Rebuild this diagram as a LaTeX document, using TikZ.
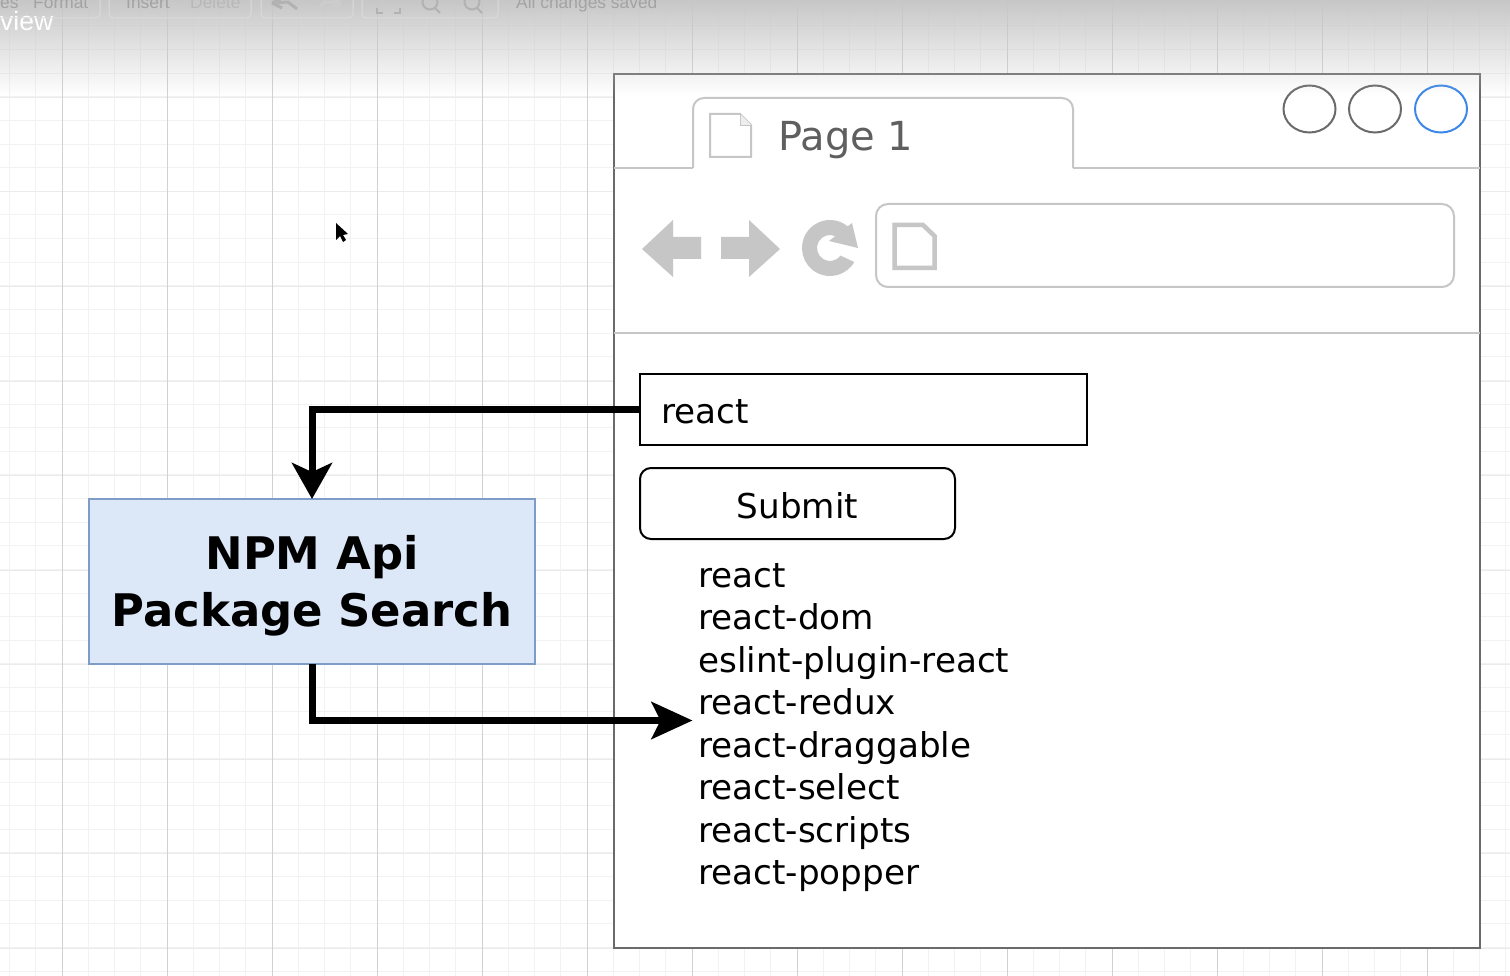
\documentclass[tikz,border=0pt]{standalone}
\usepackage{fontspec}
\setmainfont{DejaVu Sans}
\newfontfamily\barfont{Liberation Sans}
\usepackage{xcolor}
\usetikzlibrary{positioning,arrows.meta,calc,fadings,shapes.geometric}
\definecolor{frame}{HTML}{6A6A6A}
\definecolor{soft}{HTML}{C6C6C6}
\definecolor{acc}{HTML}{3D87E8}
\definecolor{apifill}{HTML}{DCE7F8}
\definecolor{apiline}{HTML}{7F9BC8}
\tikzset{x=1pt,y=-1pt,
  grid/.style={black!5,line width=1pt},
  gridhmaj/.style={black!8,line width=1pt},
  gridmaj/.style={black!18,line width=1pt},
  ctrl/.style={draw=frame,line width=2pt,ellipse,minimum width=52pt,minimum height=47pt,inner sep=0pt,outer sep=0pt},
  softline/.style={draw=soft,line width=2pt},
  softfill/.style={fill=soft,draw=none},
  input/.style={draw=black,line width=2pt,fill=white,inner sep=0pt,outer sep=0pt,anchor=north west},
  formtxt/.style={font=\fontsize{34.2}{34.2}\selectfont,inner sep=0pt},
  result/.style={font=\fontsize{34.2}{42.5}\selectfont,align=left,inner sep=0pt},
  arr/.style={line width=7pt,black},
  faint/.style={black!14,line width=1pt},
  baricon/.style={black!30,line width=2pt},
  barlabel/.style={anchor=base west,inner sep=0pt,font=\barfont\fontsize{17.4}{17.4}\selectfont},
}
\begin{document}
\begin{tikzpicture}
\useasboundingbox (0,0) rectangle (1510,976);
\fill[white] (0,0) rectangle (1510,976);
% grid
\foreach \x in {9.5,35.75,...,1510}{\draw[grid] (\x,0) -- (\x,976);}
\foreach \y in {26,49.625,...,976}{\draw[grid] (0,\y) -- (1510,\y);}
\foreach \y in {4.5,97.5,192,...,976}{\draw[gridhmaj] (0,\y) -- (1510,\y);}
\foreach \x in {62,167,...,1510}{\draw[gridmaj] (\x,0) -- (\x,976);}
% browser
\node[draw=frame,line width=2.5pt,fill=white,minimum width=866pt,minimum height=874pt,inner sep=0pt,outer sep=0pt,anchor=north west] (browser) at (614,74) {};
\coordinate (tabl) at (693,168);
\coordinate (tabr) at (1073,168);
\draw[softline,rounded corners=11pt,fill=white] (tabl) -- (693,98) -- (1073,98) -- (tabr);
\draw[softline] (browser.west |- tabl) -- (tabl);
\draw[softline] (tabr) -- (browser.east |- tabr);
\draw[softline] (browser.west |- 0,333) -- (browser.east |- 0,333);
\draw[softline] (710,114) -- (740,114) -- (751,125) -- (751,157) -- (710,157) -- cycle;
\draw[draw=soft,line width=.8pt,fill=soft!30] (740,114) -- (740,125) -- (751,125);
\node[anchor=base west,text=frame!90!black,font=\fontsize{40}{40}\selectfont,inner sep=0pt] (title) at (778,151) {Page 1};
\node[ctrl] (btnmin) at (1309.5,109) {};
\node[ctrl] (btnmax) at (1375,109) {};
\node[ctrl,draw=acc] (btnclose) at (1441,109) {};
% toolbar
\fill[softfill] (642,249) -- (673,220) -- (673,237) -- (701,237) -- (701,259) -- (673,259) -- (673,277) -- cycle;
\fill[softfill] (780,249) -- (749,220) -- (749,237) -- (721,237) -- (721,259) -- (749,259) -- (749,277) -- cycle;
\coordinate (reload) at (830,248);
\fill[softfill] ($(reload)+(-30:28pt)$) arc[start angle=-30,end angle=-310,radius=28pt] -- ($(reload)+(60:13pt)$) arc[start angle=60,end angle=324,radius=13pt] -- cycle;
\fill[softfill] (829,241) -- (852,223) -- (858,248) -- cycle;
\node[draw=soft,line width=2pt,rounded corners=12pt,minimum width=578pt,minimum height=83pt,inner sep=0pt,outer sep=0pt,anchor=north west] (addr) at (876,204) {};
\draw[draw=soft,line width=4.5pt] (894.5,225) -- (923,225) -- (934.5,236) -- (934.5,268) -- (894.5,268) -- cycle;
% form
\node[input,minimum width=447pt,minimum height=71pt] (search) at (640,374) {};
\node[formtxt,anchor=base west] (searchtxt) at (661,423.5) {react};
\node[input,rounded corners=11pt,minimum width=315pt,minimum height=71pt] (submit) at (640,468) {};
\node[formtxt] (submittxt) at ([yshift=-2pt]submit.center) {Submit};
\node[result,anchor=north west] (list) at (698,563) {react\\react-dom\\eslint-plugin-react\\react-redux\\react-draggable\\react-select\\react-scripts\\react-popper};
% api
\node[draw=apiline,line width=2pt,fill=apifill,minimum width=446pt,minimum height=165pt,inner sep=0pt,outer sep=0pt,anchor=north west] (api) at (89,499) {};
\node[align=center,inner sep=0pt,font=\fontsize{44.9}{57}\bfseries\selectfont] (apitxt) at ([yshift=-4pt]api.center) {NPM Api\\Package Search};
\coordinate (listin) at (692.5,720.5);
\draw[arr,-{Stealth[length=36pt,width=40pt,inset=9pt]}] (search.west) -| (api.north);
\draw[arr,-{Stealth[length=41pt,width=37pt,inset=9pt]}] (api.south) |- (listin);
% cursor
\fill[black] (336,223) -- (336,240) -- (340,236) -- (343,242) -- (346,240) -- (343,235) -- (348,234) -- cycle;
% top bar
\fill[black!22,path fading=south] (0,0) rectangle (1510,95);
\node[anchor=base west,text=white,font=\barfont\fontsize{26.5}{26.5}\selectfont,inner sep=0pt] (viewlbl) at (0,31) {view};
\node[barlabel,text=black!36] (filelbl) at (0,8.5) {es};
\node[barlabel,text=black!36] (formatlbl) at (33,8.5) {Format};
\node[barlabel,text=black!36] (insertlbl) at (126,8.5) {Insert};
\node[barlabel,text=black!28] (deletelbl) at (190,8.5) {Delete};
\node[barlabel,text=black!36] (savedlbl) at (516,8.5) {All changes saved};
\foreach \a/\b in {-20/100,109/251,261/353,362/498}{\draw[faint,rounded corners=4pt] (\a,-10) -- (\a,18) -- (\b,18) -- (\b,-10);}
\draw[baricon,line width=3pt] (272,3) -- (282,-2) (272,3) -- (282,8) (272,3) -- (288,2) -- (297,9);
\draw[baricon,black!20,line width=3pt] (341,3) -- (331,-2) (341,3) -- (331,8) (341,3) -- (325,2) -- (317,9);
\draw[baricon] (377,8) -- (377,13) -- (383,13) (400,8) -- (400,13) -- (394,13);
\foreach \m in {430,472}{\draw[baricon] (\m,2) circle[radius=7.5pt] (\m+5,8) -- (\m+10,13);}
\end{tikzpicture}
\end{document}
